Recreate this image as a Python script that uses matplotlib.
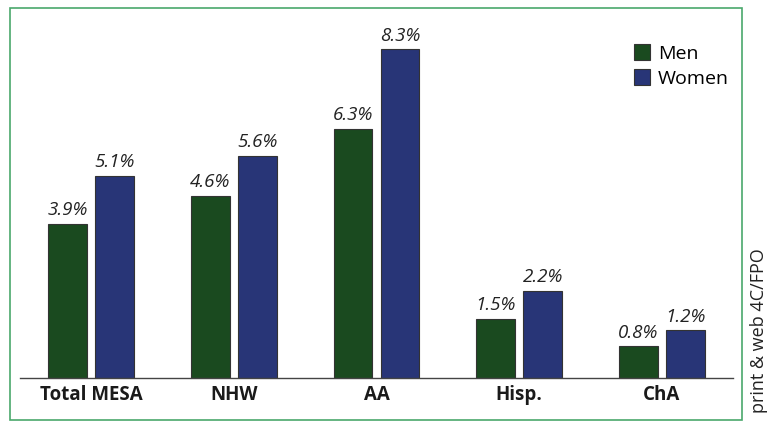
import numpy as np
import matplotlib
matplotlib.use('Agg')
from matplotlib import pyplot as plt
from matplotlib.patches import Rectangle

groups = ['Total MESA', 'NHW', 'AA', 'Hisp.', 'ChA']
men = [3.9, 4.6, 6.3, 1.5, 0.8]
women = [5.1, 5.6, 8.3, 2.2, 1.2]
series_names = ['Men', 'Women']

MEN_COLOR = '#1a4a1f'
WOMEN_COLOR = '#283577'
FRAME_COLOR = '#4aa86c'

plt.rcParams['font.family'] = ['Open Sans', 'DejaVu Sans']

fig = plt.figure(figsize=(7.68, 4.24), dpi=100)
W, H = 768, 424
ax = fig.add_axes([20 / W, (H - 378) / H, (733 - 20) / W, (378 - 10) / H])

x = np.arange(len(groups))
width = 0.273
off = 0.165
b1 = ax.bar(x - off, men, width, color=MEN_COLOR, edgecolor='#333333', linewidth=0.8, label=series_names[0])
b2 = ax.bar(x + off, women, width, color=WOMEN_COLOR, edgecolor='#333333', linewidth=0.8, label=series_names[1])

for bars, vals in ((b1, men), (b2, women)):
    for bar, v in zip(bars, vals):
        ax.text(bar.get_x() + bar.get_width() / 2, v + 0.12, f'{v:.1f}%',
                ha='center', va='bottom', fontsize=13.5, style='italic', color='#222222')

ax.set_xlim(-0.5, 4.5)
ax.set_ylim(0, 368 / 39.6)
ax.set_xticks(x)
ax.set_xticklabels(groups, fontsize=13.5, fontweight='bold', color='#1a1a1a')
ax.tick_params(axis='x', length=0, pad=5)
ax.set_yticks([])
for s in ['top', 'right', 'left']:
    ax.spines[s].set_visible(False)
ax.spines['bottom'].set_color('#444444')
ax.spines['bottom'].set_linewidth(1.0)

ax.legend(loc='upper left', bbox_to_anchor=(596 / 713, 0.955), frameon=False,
          fontsize=14, handlelength=0.85, handleheight=0.85, handletextpad=0.4,
          labelspacing=0.35)

# outer frame
fig.patches.append(Rectangle((10 / W, 4 / H), (742 - 10) / W, (418 - 6) / H,
                             transform=fig.transFigure, fill=False,
                             edgecolor=FRAME_COLOR, linewidth=1.2))

fig.text(759 / W, (H - 331) / H, 'print & web 4C/FPO', rotation=90, ha='center', va='center',
         fontsize=13, color='#222222')

fig.savefig('out.png', dpi=100)
